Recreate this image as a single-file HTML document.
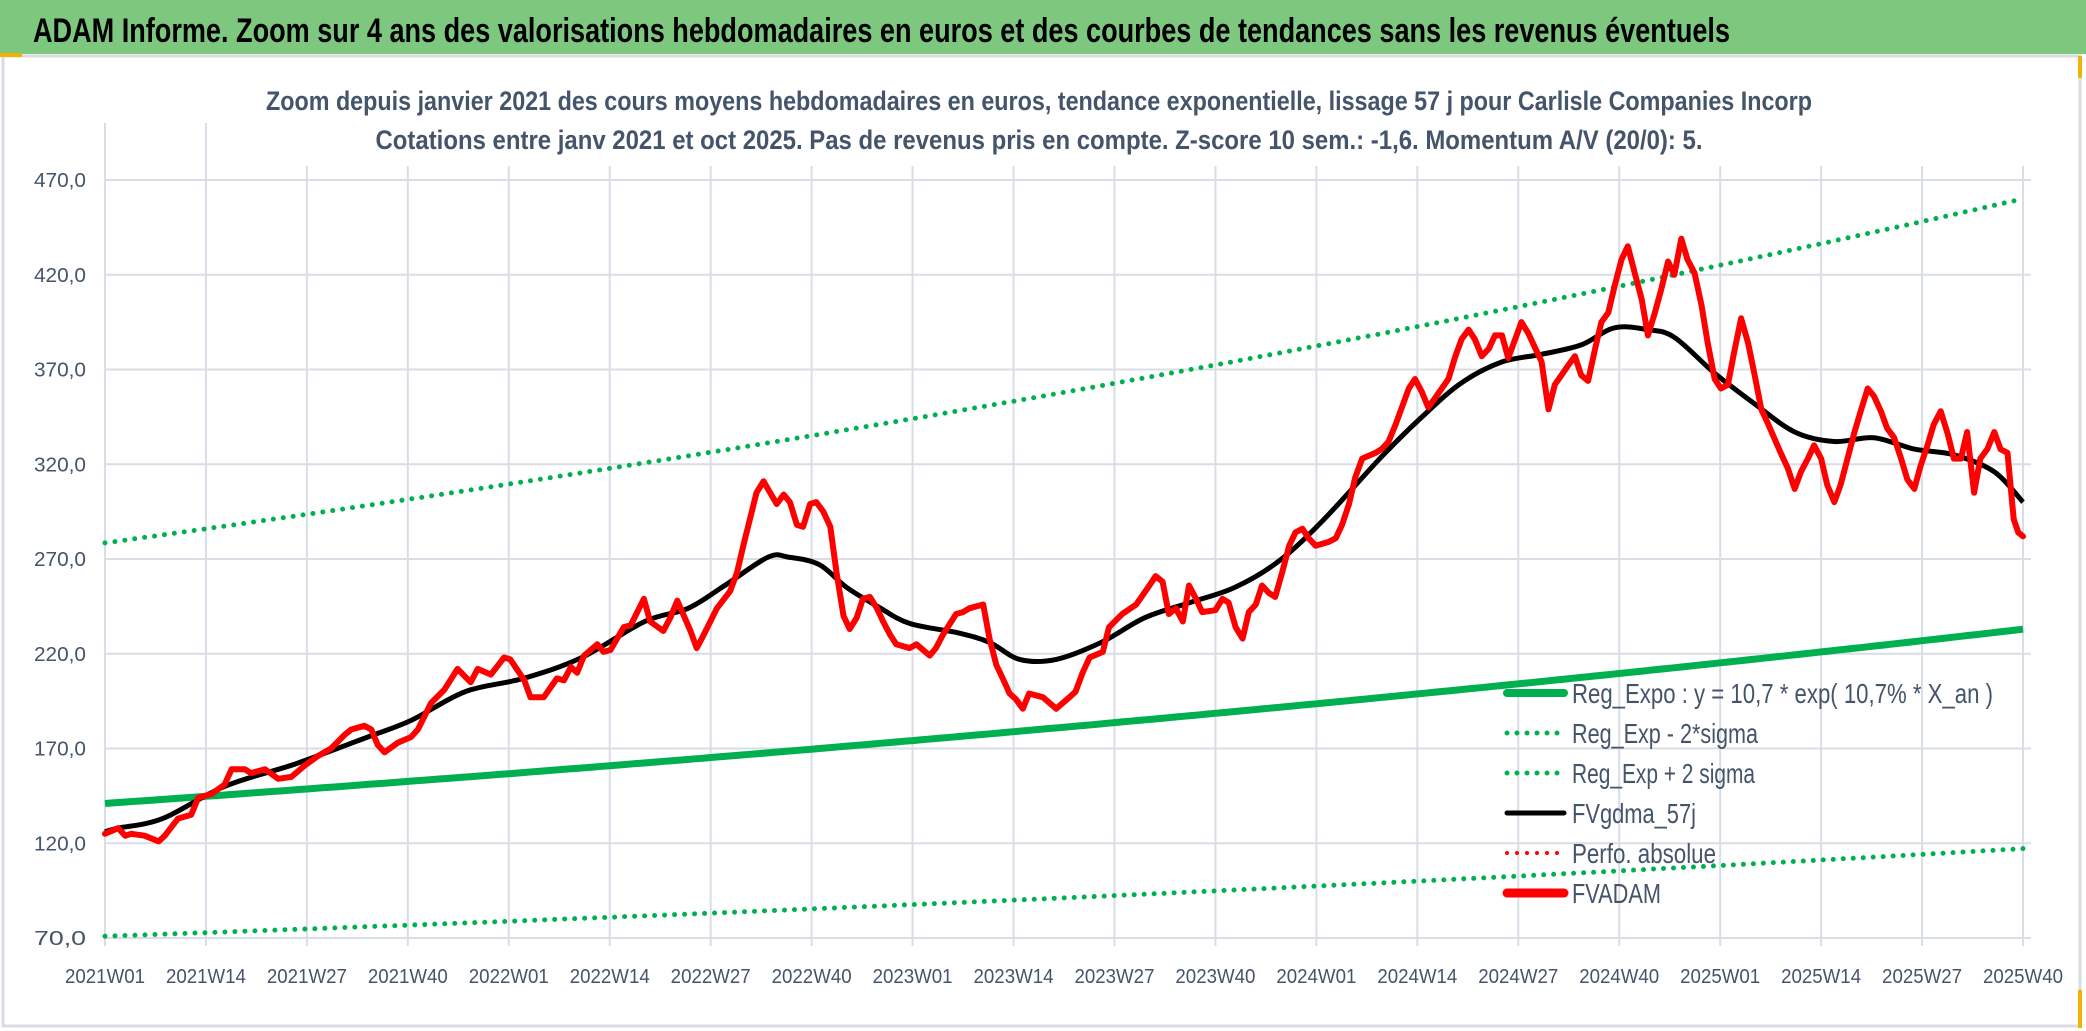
<!DOCTYPE html>
<html><head><meta charset="utf-8"><style>
html,body{margin:0;padding:0;background:#fff;}
svg{display:block;font-family:"Liberation Sans",sans-serif;}
</style></head><body>
<svg id="chart" width="2086" height="1031" viewBox="0 0 2086 1031">
<rect x="0" y="0" width="2086" height="1031" fill="#fff"/>
<rect x="0" y="0" width="2086" height="54" fill="#7dc87e"/>
<text x="33" y="42" font-size="34" font-weight="bold" fill="#000" textLength="1697" lengthAdjust="spacingAndGlyphs">ADAM Informe. Zoom sur 4 ans des valorisations hebdomadaires en euros et des courbes de tendances sans les revenus éventuels</text>
<rect x="3" y="56" width="2077" height="970" fill="none" stroke="#d9dce3" stroke-width="3"/>
<rect x="0" y="53" width="22" height="4" fill="#f0b400"/>
<rect x="2078" y="56" width="4" height="22" fill="#f0b400"/>
<rect x="2078" y="990" width="4" height="38" fill="#f0b400"/>
<text x="1039" y="110" font-size="27" font-weight="bold" fill="#44546a" text-anchor="middle" textLength="1546" lengthAdjust="spacingAndGlyphs">Zoom depuis janvier 2021 des cours moyens hebdomadaires en euros, tendance exponentielle, lissage 57 j pour Carlisle Companies Incorp</text>
<text x="1039" y="149" font-size="27" font-weight="bold" fill="#44546a" text-anchor="middle" textLength="1327" lengthAdjust="spacingAndGlyphs">Cotations entre janv 2021 et oct 2025. Pas de revenus pris en compte. Z-score 10 sem.: -1,6. Momentum A/V (20/0): 5.</text>
<g id="grid"></g>
<g id="series"></g>
<g id="legend"></g>
</svg>
<script>
const yTicks = [70,120,170,220,270,320,370,420,470];
const xTickLabels = ["2021W01","2021W14","2021W27","2021W40","2022W01","2022W14","2022W27","2022W40","2023W01","2023W14","2023W27","2023W40","2024W01","2024W14","2024W27","2024W40","2025W01","2025W14","2025W27","2025W40"];
const totalWeeks = 247;
const regStart = 141;
const regGrowth = 0.1057;
const upperFactor = 1.975;
const lowerFactor = 0.503;
const redWeeks = [0,1.7,2.6,3.4,5.1,6.9,7.7,9.4,11.1,12,13.7,15.4,16.3,18,18.8,20.6,22.3,24,25.7,27.4,29.1,30.8,31.7,33.4,34.3,35.1,36,37.7,39.4,40.3,42,43.7,45.4,47.1,48,49.7,51.4,52.2,54,54.8,56.5,58.2,59.1,60,60.8,61.7,63.4,64.2,65.1,66.8,67.7,69.4,70.2,71.9,72.8,73.7,75.4,76.2,77.1,78.8,80.5,81.4,82.2,83.9,84.8,86.5,87.4,88.2,89.1,89.9,90.8,91.6,92.5,93.4,94.2,95.1,95.9,96.8,97.6,98.5,99.4,100.2,101.1,101.9,103.6,104.5,106.2,107,107.9,109.6,110.5,111.3,113.1,113.9,114.8,115.6,116.5,117.3,118.2,119,120.8,122.5,124.2,125,125.9,126.8,128.5,129.3,131,132.8,134.5,135.3,136.2,137,137.9,138.8,139.6,140.5,141.3,143,143.9,144.7,145.6,146.5,147.3,148.2,149,149.9,150.7,151.6,152.5,153.3,154.2,155,155.9,157.6,158.5,159.3,160.2,161,161.9,163.6,164.4,165.3,166.2,167.9,168.7,169.6,170.4,171.3,173,173.9,174.7,175.6,176.4,177.3,178.2,179,179.9,180.7,181.6,182.4,183.3,184.1,185,185.9,186.7,188.4,189.3,190.1,191,191.9,192.7,193.6,194.4,195.3,196.1,197,197.9,198.7,199.6,200.4,201.3,202.1,203,203.8,204.7,205.6,206.4,207.3,208.1,209,209.8,210.7,211.6,212.4,213.3,214.1,215.8,216.7,217.6,218.4,219.3,220.1,221,221.8,222.7,223.5,224.4,225.3,226.1,227,227.8,228.7,229.5,230.4,231.3,232.1,233,233.8,234.7,235.5,236.4,237.3,238.1,239,239.8,240.7,241.5,242.4,243.3,244.1,245,245.8,246.4,247];
const redValues = [125,128,124,125,124,121,124,133,135,144,146,151,159,159,157,159,154,155,161,166,170,177,180,182,180,172,168,173,176,180,194,201,212,205,212,209,218,217,206,197,197,207,206,213,210,219,225,221,222,234,235,249,237,232,239,248,232,223,230,244,253,263,277,305,311,299,304,300,288,287,299,300,295,287,263,240,233,239,249,250,244,237,230,225,223,225,219,223,230,241,242,244,246,228,214,207,199,196,191,199,197,191,197,200,210,218,221,234,241,246,256,261,258,241,244,237,256,249,242,243,249,247,234,228,242,246,256,252,250,263,277,284,286,281,277,279,281,288,299,313,323,326,328,332,341,360,365,358,350,355,365,377,386,391,386,377,381,388,388,376,386,395,389,382,374,349,362,372,377,367,364,381,395,400,414,428,435,421,407,388,400,412,427,420,439,428,421,404,384,365,360,362,379,397,384,368,349,342,326,318,307,316,323,330,323,309,300,309,323,337,348,360,356,348,339,334,323,312,307,319,330,341,348,336,323,323,337,305,323,328,337,328,326,291,284,282];
const blackWeeks = [0,1.7,7.4,15.4,24.6,33.8,39.5,46.4,53.9,61.4,69.5,75.1,79.8,85.4,88,92,95.5,99.5,103.6,109.9,113.9,117.8,122.5,128.3,133.9,139.7,145.5,151.2,157,164.4,169.6,174.7,179.9,185,190.1,194.4,198.7,202.1,207.3,212.4,217.6,222.7,227.8,233,238.1,243.3,247];
const blackValues = [126,128,133,150,162,176,185,200,207,218,237,244,256,271,271,267,255,245,236,231,226,217,217,226,239,247,255,269,291,324,345,363,374,378,383,392,391,387,368,352,337,332,334,328,325,316,300];

const X0 = 105, X1 = 2023, YTOP = 180, YBOT = 938;
const xs = w => X0 + (X1 - X0) * w / totalWeeks;
const ys = v => YBOT - (YBOT - YTOP) * (v - 70) / 400;
const NS = "http://www.w3.org/2000/svg";
function mk(tag, attrs, parent) {
  const e = document.createElementNS(NS, tag);
  for (const k in attrs) e.setAttribute(k, attrs[k]);
  parent.appendChild(e);
  return e;
}
const grid = document.getElementById('grid');
const series = document.getElementById('series');
const legend = document.getElementById('legend');

yTicks.forEach(v => {
  const l = mk('line', {x1: X0, x2: X1 + 8, y1: ys(v), y2: ys(v), stroke: '#d9dde5', 'stroke-width': 2}, grid);
  
  
  const t = mk('text', {x: 86, y: ys(v) + 7, 'font-size': 20, fill: '#44546a', 'text-anchor': 'end', textLength: 52, lengthAdjust: 'spacingAndGlyphs'}, grid);
  t.textContent = v.toFixed(1).replace('.', ',');
  
  
});
xTickLabels.forEach((lab, i) => {
  const w = i * 13;
  const l = mk('line', {x1: xs(w), x2: xs(w), y1: i < 2 ? 123 : 166, y2: YBOT + 8, stroke: '#d9dde5', 'stroke-width': 2}, grid);
  
  
  const t = mk('text', {x: xs(w), y: 983, 'font-size': 20, fill: '#44546a', 'text-anchor': 'middle', textLength: 80, lengthAdjust: 'spacingAndGlyphs'}, grid);
  t.textContent = lab;
  
  
});

function pathFrom(ws, vs) {
  return ws.map((w, i) => (i ? 'L' : 'M') + xs(w).toFixed(1) + ',' + ys(vs[i]).toFixed(1)).join(' ');
}
function smoothPath(ws, vs) {
  const p = ws.map((w, i) => [xs(w), ys(vs[i])]);
  let d = 'M' + p[0][0].toFixed(1) + ',' + p[0][1].toFixed(1);
  for (let i = 0; i < p.length - 1; i++) {
    const p0 = p[Math.max(0, i - 1)], p1 = p[i], p2 = p[i + 1], p3 = p[Math.min(p.length - 1, i + 2)];
    const c1 = [p1[0] + (p2[0] - p0[0]) / 6, p1[1] + (p2[1] - p0[1]) / 6];
    const c2 = [p2[0] - (p3[0] - p1[0]) / 6, p2[1] - (p3[1] - p1[1]) / 6];
    d += ' C' + c1[0].toFixed(1) + ',' + c1[1].toFixed(1) + ' ' + c2[0].toFixed(1) + ',' + c2[1].toFixed(1) + ' ' + p2[0].toFixed(1) + ',' + p2[1].toFixed(1);
  }
  return d;
}
const trendWeeks = [];
for (let w = 0; w <= totalWeeks; w++) trendWeeks.push(w);
const reg = trendWeeks.map(w => regStart * Math.exp(regGrowth * w / 52));
const up = reg.map(v => v * upperFactor);
const lo = reg.map(v => v * lowerFactor);

const pU = mk('path', {d: pathFrom(trendWeeks, up), fill: 'none', stroke: '#00b050', 'stroke-width': 5, 'stroke-dasharray': '0 10', 'stroke-linecap': 'round'}, series);


const pL = mk('path', {d: pathFrom(trendWeeks, lo), fill: 'none', stroke: '#00b050', 'stroke-width': 5, 'stroke-dasharray': '0 10', 'stroke-linecap': 'round'}, series);


const pR = mk('path', {d: pathFrom(trendWeeks, reg), fill: 'none', stroke: '#00b050', 'stroke-width': 7}, series);


const pB = mk('path', {d: smoothPath(blackWeeks, blackValues), fill: 'none', stroke: '#000', 'stroke-width': 5, 'stroke-linejoin': 'round'}, series);


const pF = mk('path', {d: pathFrom(redWeeks, redValues), fill: 'none', stroke: '#ff0000', 'stroke-width': 6, 'stroke-linejoin': 'round', 'stroke-linecap': 'round'}, series);



const legendLabels = ["Reg_Expo : y = 10,7 * exp( 10,7% *  X_an )","Reg_Exp - 2*sigma","Reg_Exp + 2 sigma","FVgdma_57j","Perfo. absolue","FVADAM"];
const legendWidths = [421,186,183,124,144,89];
const legendColors = ['#00b050','#00b050','#00b050','#000','#ff0000','#ff0000'];
const legendDotted = [false,true,true,false,true,false];
const legendThick = [8,5,5,5,4,9];
legendLabels.forEach((lab, i) => {
  const y = 693 + i * 40;
  const g = mk('g', {}, legend);
  
  
  const a = {x1: 1507, x2: 1564, y1: y, y2: y, stroke: legendColors[i], 'stroke-width': legendThick[i], 'stroke-linecap': 'round'};
  if (legendDotted[i]) a['stroke-dasharray'] = '0 10';
  mk('line', a, g);
  const t = mk('text', {x: 1572, y: y + 10, 'font-size': 28, fill: '#44546a', textLength: legendWidths[i], lengthAdjust: 'spacingAndGlyphs'}, g);
  t.textContent = lab;
});
</script>
</body></html>
